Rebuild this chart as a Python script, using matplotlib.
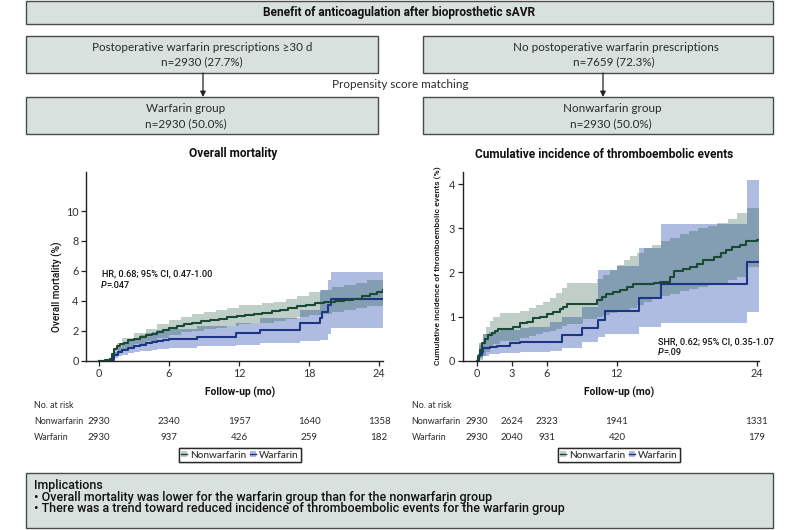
import matplotlib
matplotlib.use("Agg")
import matplotlib.pyplot as plt
from matplotlib.patches import Rectangle, Patch
from matplotlib.lines import Line2D

# ---------------- data ----------------
# Overall mortality (%)
mort_nw_t = [0, 0.5, 0.9, 1.1, 1.3, 1.5, 1.8, 2.1, 2.5, 3.0, 3.5, 4.0, 4.5, 5.0, 5.5, 6.0, 6.7, 7.3, 8.0,
             8.7, 9.5, 10.3, 11.0, 11.8, 12.5, 13.3, 14.0, 14.8, 15.5, 16.2, 17.0, 17.7, 18.5, 19.3, 20.2,
             21.0, 21.8, 22.5, 23.2, 23.8, 24.3]
mort_nw_v = [0, 0.05, 0.1, 0.45, 0.75, 0.95, 1.1, 1.2, 1.35, 1.45, 1.6, 1.7, 1.8, 1.95, 2.05, 2.2, 2.3, 2.45,
             2.55, 2.65, 2.72, 2.8, 2.9, 3.0, 3.05, 3.1, 3.2, 3.3, 3.4, 3.5, 3.65, 3.75, 3.85, 3.92, 4.0,
             4.08, 4.15, 4.3, 4.45, 4.6, 4.75]
mort_nw_ci_t = [0, 0.9, 1.2, 1.5, 2, 3, 4, 5, 6, 7, 8, 9, 10, 11, 12, 13, 14, 15, 16, 17, 18, 19, 20, 21,
                22, 23, 24.3]
mort_nw_hi = [0, 0.15, 0.8, 1.2, 1.5, 1.85, 2.15, 2.45, 2.75, 2.95, 3.1, 3.25, 3.4, 3.55, 3.7, 3.75, 3.85,
              3.95, 4.1, 4.35, 4.6, 4.75, 4.9, 5.05, 5.2, 5.4, 5.6]
mort_nw_lo = [0, 0.05, 0.3, 0.6, 0.8, 1.1, 1.3, 1.5, 1.75, 1.9, 2.0, 2.1, 2.2, 2.3, 2.45, 2.5, 2.55, 2.65,
              2.8, 2.9, 3.05, 3.15, 3.25, 3.4, 3.5, 3.65, 3.8]
mort_w_t = [0, 1.0, 1.3, 1.6, 2.0, 2.5, 3.0, 3.5, 4.0, 4.5, 5.0, 5.5, 6.0, 8.4, 11.7, 13.8, 17.2, 18.9,
            19.1, 19.6, 19.9, 24.3]
mort_w_v = [0, 0.05, 0.35, 0.55, 0.7, 0.85, 0.95, 1.05, 1.15, 1.22, 1.3, 1.38, 1.45, 1.6, 1.83, 2.05, 2.5,
            2.85, 3.25, 3.7, 4.1, 4.1]
mort_w_hi = [0, 0.1, 0.6, 0.9, 1.1, 1.3, 1.5, 1.7, 1.85, 1.95, 2.02, 2.08, 2.15, 2.3, 2.55, 2.85, 3.4, 4.7,
             4.7, 5.4, 5.95, 5.95]
mort_w_lo = [0, 0, 0.15, 0.3, 0.4, 0.5, 0.55, 0.62, 0.68, 0.72, 0.76, 0.8, 0.82, 0.95, 1.08, 1.2, 1.3, 1.38,
             1.38, 1.8, 2.16, 2.16]

# Cumulative incidence of thromboembolic events (%)
te_nw_t = [0, 0.1, 0.26, 0.4, 0.69, 0.97, 1.26, 1.55, 1.83, 3.1, 3.7, 4.26, 4.84, 5.4, 6.0, 6.55, 7.1, 7.4,
           7.7, 10.3, 10.7, 11.1, 11.7, 12.3, 12.85, 13.4, 15.2, 15.7, 16.6, 16.9, 17.7, 18.3, 18.9, 19.4,
           20.3, 20.9, 21.4, 21.9, 22.6, 23.1, 24.0, 24.2]
te_nw_v = [0, 0.1, 0.24, 0.39, 0.5, 0.58, 0.62, 0.67, 0.71, 0.77, 0.85, 0.88, 0.96, 1.0, 1.06, 1.1, 1.16,
           1.22, 1.28, 1.38, 1.45, 1.51, 1.55, 1.6, 1.68, 1.73, 1.76, 1.79, 1.9, 2.02, 2.07, 2.13, 2.2, 2.28,
           2.34, 2.43, 2.51, 2.57, 2.62, 2.7, 2.74, 2.74]
te_nw_ci_t = [0, 0.2, 0.5, 0.8, 1.1, 1.4, 2.0, 3.7, 4.5, 5.1, 5.7, 6.3, 6.8, 7.3, 7.7, 9.1, 10.3, 10.8, 11.4,
              12.0, 12.6, 13.1, 13.7, 14.3, 15.0, 15.8, 16.6, 17.4, 18.2, 19.0, 19.8, 20.6, 21.5, 22.3,
              23.2, 24.2]
te_nw_hi = [0, 0.35, 0.6, 0.77, 0.9, 1.0, 1.07, 1.13, 1.19, 1.27, 1.34, 1.43, 1.53, 1.65, 1.75, 1.75, 1.85,
            1.95, 2.05, 2.17, 2.27, 2.36, 2.45, 2.55, 2.62, 2.7, 2.78, 2.86, 2.93, 3.0, 3.06, 3.11, 3.2,
            3.35, 3.45, 3.45]
te_nw_lo = [0, 0.02, 0.1, 0.2, 0.3, 0.38, 0.45, 0.52, 0.56, 0.6, 0.64, 0.68, 0.72, 0.78, 0.84, 0.95, 1.0,
            1.03, 1.07, 1.1, 1.15, 1.2, 1.26, 1.33, 1.4, 1.46, 1.52, 1.57, 1.62, 1.67, 1.72, 1.77, 1.83,
            1.9, 2.13, 2.13]
te_w_t = [0, 0.2, 0.4, 0.54, 1.1, 1.7, 2.83, 3.7, 7.27, 9.05, 10.35, 11.0, 13.9, 15.75, 23.2, 24.2]
te_w_v = [0, 0.12, 0.2, 0.28, 0.32, 0.34, 0.39, 0.43, 0.58, 0.73, 0.92, 1.12, 1.41, 1.73, 2.23, 2.23]
te_w_ci_t = [0, 0.2, 0.5, 1.0, 2.0, 3.7, 4.5, 6.3, 7.27, 9.05, 10.35, 11.0, 12.0, 13.9, 15.75, 23.2, 24.2]
te_w_hi = [0, 0.4, 0.6, 0.65, 0.7, 0.75, 0.77, 0.88, 1.0, 1.22, 2.05, 2.05, 2.15, 2.55, 3.1, 4.1, 4.1]
te_w_lo = [0, 0.05, 0.1, 0.15, 0.17, 0.2, 0.2, 0.22, 0.28, 0.43, 0.54, 0.6, 0.6, 0.77, 0.86, 1.1, 1.1]

# numbers at risk
mort_risk_t = [0, 6, 12, 18, 24]
mort_risk_nw = [2930, 2340, 1957, 1640, 1358]
mort_risk_w = [2930, 937, 426, 259, 182]
te_risk_t = [0, 3, 6, 12, 24]
te_risk_nw = [2930, 2624, 2323, 1941, 1331]
te_risk_w = [2930, 2040, 931, 420, 179]

# ---------------- style ----------------
W, H = 800, 530
GREEN_LINE = "#1b4a34"
BLUE_LINE = "#1c3585"
GREEN_FILL = "#034323"      # drawn with low alpha over the blue band
GREEN_ALPHA = 0.25
BLUE_FILL = "#afbce2"
GREEN_LEG = "#bfd0c6"
BOX_FILL = "#d9e1de"
BOX_EDGE = "#4a4a4a"
TXT = "#2a2a2a"
DIN = "Roboto"
GILL = "Lato"

fig = plt.figure(figsize=(8, 5.3), dpi=100)
fig.patch.set_facecolor("white")

ov = fig.add_axes([0, 0, 1, 1], zorder=0)
ov.set_xlim(0, W)
ov.set_ylim(H, 0)
ov.axis("off")


def box(x0, y0, x1, y1, lw=1.0):
    ov.add_patch(Rectangle((x0, y0), x1 - x0, y1 - y0, facecolor=BOX_FILL, edgecolor=BOX_EDGE, lw=lw))


def gtxt(x, y, s, **kw):
    p = dict(ha="center", va="center", fontsize=8.4, family=GILL, color=TXT)
    p.update(kw)
    ov.text(x, y, s, **p)


box(26, 1, 773, 24)
ov.text(399, 12.5, "Benefit of anticoagulation after bioprosthetic sAVR", ha="center", va="center",
        fontsize=8.6, fontweight="bold", family=DIN, color="#111")
box(26, 36, 378, 73)
box(423, 36, 773, 73)
gtxt(202, 47.5, "Postoperative warfarin prescriptions \u226530 d")
gtxt(202, 62, "n=2930 (27.7%)")
gtxt(616, 47.5, "No postoperative warfarin prescriptions")
gtxt(614, 62, "n=7659 (72.3%)")
box(26, 97, 378, 134)
box(423, 97, 773, 134)
gtxt(186, 108.5, "Warfarin group")
gtxt(186, 123.5, "n=2930 (50.0%)")
gtxt(612, 108.5, "Nonwarfarin group")
gtxt(611, 123.5, "n=2930 (50.0%)")
gtxt(400, 85, "Propensity score matching")
for ax_x in (203, 603):
    ov.annotate("", xy=(ax_x, 97), xytext=(ax_x, 73),
                arrowprops=dict(arrowstyle="-|>", color="#222", lw=0.9, mutation_scale=8,
                                shrinkA=0, shrinkB=0))

# implications
box(26, 473, 773, 528)
for yy, s in [(485, "Implications"),
              (497, "\u2022 Overall mortality was lower for the warfarin group than for the nonwarfarin group"),
              (508.5, "\u2022 There was a trend toward reduced incidence of thromboembolic events for the warfarin group")]:
    ov.text(34, yy, s, ha="left", va="center", fontsize=9.0, family=DIN, fontweight="medium", color="#111")


def px_axes(x0, x1, ytop, ybot):
    return fig.add_axes([x0 / W, 1 - ybot / H, (x1 - x0) / W, (ybot - ytop) / H], zorder=2)


def style(ax, xticks, yticks):
    for s in ("top", "right"):
        ax.spines[s].set_visible(False)
    for s in ("left", "bottom"):
        ax.spines[s].set_linewidth(1.0)
        ax.spines[s].set_color("#222")
    ax.set_xticks(xticks)
    ax.set_yticks(yticks)
    ax.tick_params(direction="out", length=3.5, width=0.9, color="#222", labelsize=7.8,
                   labelcolor="#333", pad=2)
    for lab in ax.get_xticklabels() + ax.get_yticklabels():
        lab.set_family(GILL)
    ax.patch.set_alpha(0)


def draw_km(ax, nw_t, nw_v, nw_ci_t, nw_lo, nw_hi, w_t, w_v, w_ci_t, w_lo, w_hi):
    ax.fill_between(w_ci_t, w_lo, w_hi, step="post", color=BLUE_FILL, lw=0)
    ax.fill_between(nw_ci_t, nw_lo, nw_hi, step="post", color=GREEN_FILL, alpha=GREEN_ALPHA, lw=0)
    ax.step(w_t, w_v, where="post", color=BLUE_LINE, lw=1.5)
    ax.step(nw_t, nw_v, where="post", color=GREEN_LINE, lw=1.5)


# ---- left chart ----
axL = px_axes(86.2, 382.6, 171.7, 360.7)
axL.set_xlim(-1.1, 24.3)
axL.set_ylim(0, 12.63)
draw_km(axL, mort_nw_t, mort_nw_v, mort_nw_ci_t, mort_nw_lo, mort_nw_hi,
        mort_w_t, mort_w_v, mort_w_t, mort_w_lo, mort_w_hi)
style(axL, mort_risk_t, [0, 2, 4, 6, 8, 10])

# ---- right chart ----
axR = px_axes(462.7, 759, 171.7, 360.7)
axR.set_xlim(-1.23, 24.2)
axR.set_ylim(0, 4.28)
draw_km(axR, te_nw_t, te_nw_v, te_nw_ci_t, te_nw_lo, te_nw_hi,
        te_w_t, te_w_v, te_w_ci_t, te_w_lo, te_w_hi)
style(axR, te_risk_t, [0, 1, 2, 3, 4])

# titles & labels
ov.text(233, 154, "Overall mortality", ha="center", va="center", fontsize=8.6, fontweight="bold",
        family=DIN, color="#111")
ov.text(604, 154, "Cumulative incidence of thromboembolic events", ha="center", va="center",
        fontsize=8.6, fontweight="bold", family=DIN, color="#111")
ov.text(57, 287, "Overall mortality (%)", ha="center", va="center", rotation=90, fontsize=7.2,
        family=DIN, fontweight="medium", color="#111")
ov.text(438, 266, "Cumulative incidence of thromboembolic events (%)", ha="center", va="center",
        rotation=90, fontsize=6.1, family=DIN, fontweight="medium", color="#111")
ov.text(240, 392, "Follow-up (mo)", ha="center", va="center", fontsize=7.4, fontweight="bold",
        family=DIN, color="#111")
ov.text(619, 392, "Follow-up (mo)", ha="center", va="center", fontsize=7.4, fontweight="bold",
        family=DIN, color="#111")

# annotations
ann = dict(ha="left", va="center", fontsize=6.6, family=DIN, fontweight="medium", color="#111")
ov.text(102, 274, "HR, 0.68; 95% CI, 0.47-1.00", **ann)
ov.text(101, 285.5, "P", style="italic", **ann)
ov.text(106, 285.5, "=.047", **ann)
ov.text(658, 341.5, "SHR, 0.62; 95% CI, 0.35-1.07", **ann)
ov.text(658, 352.5, "P", style="italic", **ann)
ov.text(663, 352.5, "=.09", **ann)

# numbers at risk
fig.canvas.draw()


def risk_table(ax, x_label, t, nw, w):
    lab = dict(ha="left", va="center", fontsize=6.4, family=GILL, color=TXT)
    ov.text(x_label, 406, "No. at risk", **lab)
    ov.text(x_label, 421.5, "Nonwarfarin", **lab)
    ov.text(x_label, 438, "Warfarin", **lab)
    for ti, a, b in zip(t, nw, w):
        xp = ax.transData.transform((ti, 0))[0]
        gtxt(xp, 421.5, str(a), fontsize=7)
        gtxt(xp, 438, str(b), fontsize=7)


risk_table(axL, 34, mort_risk_t, mort_risk_nw, mort_risk_w)
risk_table(axR, 411.5, te_risk_t, te_risk_nw, te_risk_w)

# legends
handles = [(Patch(facecolor=GREEN_LEG, lw=0), Line2D([], [], color=GREEN_LINE, lw=1)),
           (Patch(facecolor=BLUE_FILL, lw=0), Line2D([], [], color=BLUE_LINE, lw=1))]
labels = ["Nonwarfarin", "Warfarin"]
for cx in (240, 619):
    lg = fig.legend(handles, labels, loc="center", bbox_to_anchor=(cx / W, 1 - 455 / H), ncol=2,
                    handlelength=0.6, handleheight=0.6, handletextpad=0.3, columnspacing=0.4,
                    borderpad=0.25, borderaxespad=0, fancybox=False, frameon=True,
                    prop={"family": GILL, "size": 7.2})
    lg.get_frame().set_edgecolor("#111")
    lg.get_frame().set_linewidth(1.0)
    for txt in lg.get_texts():
        txt.set_color(TXT)
    fig.add_artist(lg)

fig.savefig("out.png", dpi=100, facecolor="white")
